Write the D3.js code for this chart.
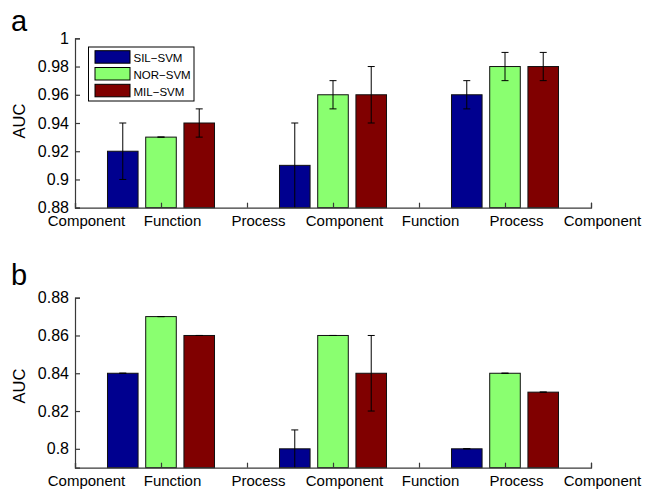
<!DOCTYPE html>
<html>
<head>
<meta charset="utf-8">
<script src="https://cdn.jsdelivr.net/npm/d3@7"></script>
<style>
  html, body { margin: 0; padding: 0; background: #fff; }
  svg { display: block; font-family: "Liberation Sans", Arial, Helvetica, sans-serif; }
</style>
</head>
<body>
<svg id="chart" width="647" height="490"></svg>
<script>
// Tick labels along the x axis (one per half-group tick)
const xTickLabels = ["Component", "Function", "Process", "Component", "Function", "Process", "Component"];
const seriesNames = ["SIL\u2212SVM", "NOR\u2212SVM", "MIL\u2212SVM"];
const seriesColors = ["#00008f", "#8aff70", "#800000"];

// Panel a: AUC and error per group
const aucA_SIL = [0.92, 0.91, 0.96];
const errA_SIL = [0.02, 0.03, 0.01];
const aucA_NOR = [0.93, 0.96, 0.98];
const errA_NOR = [0.00, 0.01, 0.01];
const aucA_MIL = [0.94, 0.96, 0.98];
const errA_MIL = [0.01, 0.02, 0.01];
const yTicksA = [0.88, 0.9, 0.92, 0.94, 0.96, 0.98, 1];

// Panel b: AUC and error per group
const aucB_SIL = [0.84, 0.80, 0.80];
const errB_SIL = [0.00, 0.01, 0.00];
const aucB_NOR = [0.87, 0.86, 0.84];
const errB_NOR = [0.00, 0.00, 0.00];
const aucB_MIL = [0.86, 0.84, 0.83];
const errB_MIL = [0.00, 0.02, 0.00];
const yTicksB = [0.8, 0.82, 0.84, 0.86, 0.88];

const svg = d3.select("#chart");
svg.append("rect").attr("width", 647).attr("height", 490).attr("fill", "#fff");

const nGroups = 3;
const groupWidth = 2 / 3;            // grouped-bar span within one unit
const barWidth = groupWidth / 3 * 0.8;
const x = d3.scaleLinear().domain([0, nGroups]).range([75, 591]);
const xTickVals = d3.range(0, nGroups + 0.001, 0.5);

function drawPanel(opts) {
  const y = d3.scaleLinear().domain(opts.domain).range(opts.range);
  const g = svg.append("g");

  const series = opts.values.map((vals, s) => ({
    name: seriesNames[s], color: seriesColors[s],
    bars: vals.map((v, i) => ({ v, e: opts.errors[s][i], pos: i + 0.5 + (s - 1) * groupWidth / 3 }))
  }));

  // bars
  series.forEach(sr => {
    g.selectAll(null).data(sr.bars).enter().append("rect")
      .attr("x", d => x(d.pos - barWidth / 2))
      .attr("width", d => x(d.pos + barWidth / 2) - x(d.pos - barWidth / 2))
      .attr("y", d => y(d.v))
      .attr("height", d => y(opts.domain[0]) - y(d.v))
      .attr("fill", sr.color)
      .attr("stroke", "#111")
      .attr("stroke-width", 1);
  });

  // error bars
  const cap = 3.5;
  series.forEach(sr => {
    const eb = g.selectAll(null).data(sr.bars).enter().append("g")
      .attr("stroke", "#000").attr("stroke-width", 1).attr("fill", "none");
    eb.append("line")
      .attr("x1", d => x(d.pos)).attr("x2", d => x(d.pos))
      .attr("y1", d => y(Math.max(d.v - d.e, opts.domain[0]))).attr("y2", d => y(d.v + d.e));
    eb.append("line")
      .attr("x1", d => x(d.pos) - cap).attr("x2", d => x(d.pos) + cap)
      .attr("y1", d => y(d.v + d.e)).attr("y2", d => y(d.v + d.e));
    eb.filter(d => d.v - d.e > opts.domain[0]).append("line")
      .attr("x1", d => x(d.pos) - cap).attr("x2", d => x(d.pos) + cap)
      .attr("y1", d => y(d.v - d.e)).attr("y2", d => y(d.v - d.e));
  });

  // x axis: inward ticks, cycling category labels
  const xAxis = d3.axisBottom(x)
    .tickValues(xTickVals)
    .tickFormat((d, i) => xTickLabels[i])
    .tickSizeInner(-5).tickSizeOuter(-5).tickPadding(8);
  const gx = g.append("g")
    .attr("transform", `translate(0,${opts.range[0]})`)
    .style("color", "#3a3a3a")
    .call(xAxis);
  gx.selectAll("path, line").attr("stroke-width", 1.2);
  gx.selectAll("text").attr("fill", "#000").attr("font-size", 15).attr("dx", 11);

  // y axis
  const yAxis = d3.axisLeft(y)
    .tickValues(opts.yTicks)
    .tickFormat(d => String(+d.toFixed(2)))
    .tickSizeInner(-5).tickSizeOuter(-5).tickPadding(6);
  const gy = g.append("g")
    .attr("transform", `translate(${x(0)},0)`)
    .style("color", "#3a3a3a")
    .call(yAxis);
  gy.selectAll("path, line").attr("stroke-width", 1.2);
  gy.selectAll("text").attr("fill", "#000").attr("font-size", 16);

  // axis title
  g.append("text")
    .attr("transform", `translate(25,${opts.titleY}) rotate(-90)`)
    .attr("text-anchor", "middle")
    .attr("font-size", 16.5)
    .text("AUC");

  // panel letter
  g.append("text")
    .attr("x", 11).attr("y", opts.letterY)
    .attr("font-size", 29)
    .text(opts.letter);
}

drawPanel({
  letter: "a", letterY: 30.5, titleY: 121,
  domain: [0.88, 1], range: [207.7, 38.3], yTicks: yTicksA,
  values: [aucA_SIL, aucA_NOR, aucA_MIL],
  errors: [errA_SIL, errA_NOR, errA_MIL]
});

drawPanel({
  letter: "b", letterY: 285, titleY: 386,
  domain: [0.79, 0.88], range: [467.7, 297.7], yTicks: yTicksB,
  values: [aucB_SIL, aucB_NOR, aucB_MIL],
  errors: [errB_SIL, errB_NOR, errB_MIL]
});

// legend (panel a)
const legend = svg.append("g").attr("transform", "translate(88.5,47)");
legend.append("rect")
  .attr("width", 105.5).attr("height", 54)
  .attr("fill", "#fff").attr("stroke", "#000").attr("stroke-width", 1);
const items = legend.selectAll(null).data(seriesNames).enter().append("g")
  .attr("transform", (d, i) => `translate(0,${i * 16.8})`);
items.append("rect")
  .attr("x", 6.5).attr("y", 3.7).attr("width", 35).attr("height", 12.5)
  .attr("fill", (d, i) => seriesColors[i]).attr("stroke", "#000").attr("stroke-width", 1);
items.append("text")
  .attr("x", 45).attr("y", 15)
  .attr("font-size", 11.5)
  .text(d => d);
</script>
</body>
</html>
